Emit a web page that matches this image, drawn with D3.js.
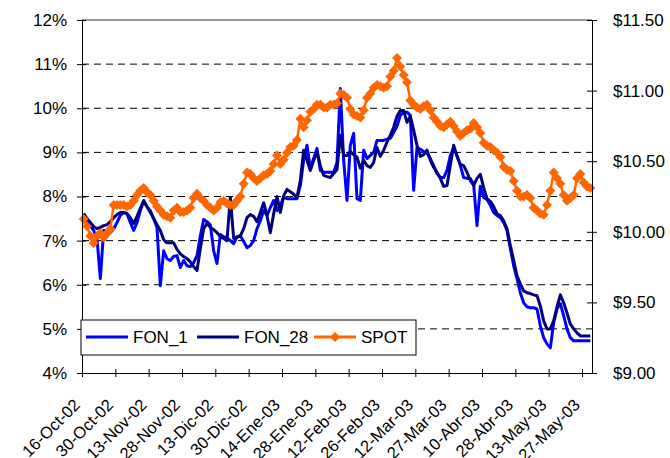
<!DOCTYPE html>
<html lang="en">
<head>
<meta charset="UTF-8">
<title>FON vs SPOT</title>
<style>
  body { margin: 0; background: #fff; }
  text { font-family: "Liberation Sans", Arial, sans-serif; fill: #000; }
</style>
</head>
<body>
<svg width="670" height="458" id="svg"></svg>
<script src="https://d3js.org/d3.v7.min.js"></script>
<script>
// tick labels, one every 10 business days
var tickLabels = ["16-Oct-02", "30-Oct-02", "13-Nov-02", "28-Nov-02", "13-Dic-02", "30-Dic-02",
                  "14-Ene-03", "28-Ene-03", "12-Feb-03", "26-Feb-03", "12-Mar-03", "27-Mar-03",
                  "10-Abr-03", "28-Abr-03", "13-May-03", "27-May-03"];

// FON_1 (%), left axis
var fon1 = [7.61, 7.45, 7.34, 7.23, 7.05, 6.14, 7.23, 7.20, 7.18, 7.27,
            7.41, 7.57, 7.64, 7.61, 7.41, 7.23, 7.41, 7.68, 7.89, 7.77,
            7.68, 7.50, 7.30, 5.98, 6.77, 6.59, 6.55, 6.64, 6.66, 6.39,
            6.55, 6.43, 6.41, 6.50, 6.66, 7.11, 7.48, 7.43, 7.36, 6.77,
            6.48, 7.14, 7.09, 7.07, 7.00, 6.93, 7.09, 7.11, 6.98, 6.84,
            6.89, 7.00, 7.27, 7.45, 7.68, 7.57, 7.75, 7.91, 7.68, 7.80,
            7.98, 7.95, 7.95, 7.95, 7.95, 8.25, 8.82, 9.16, 8.64, 8.86,
            9.09, 8.59, 8.55, 8.55, 8.55, 8.55, 8.77, 10.45, 8.82, 7.91,
            9.16, 9.43, 7.95, 7.91, 9.05, 8.86, 8.93, 9.00, 9.27, 9.27,
            9.27, 9.30, 9.32, 9.45, 9.59, 9.84, 9.91, 9.91, 9.84, 8.14,
            9.11, 9.07, 9.02, 8.98, 8.86, 8.70, 8.52, 8.43, 8.43, 8.59,
            8.93, 9.11, 8.93, 8.70, 8.43, 8.41, 8.41, 8.27, 7.34, 8.23,
            7.98, 7.93, 7.80, 7.64, 7.57, 7.52, 7.41, 7.23, 6.82, 6.43,
            6.14, 5.82, 5.59, 5.50, 5.48, 5.48, 5.45, 5.07, 4.80, 4.66,
            4.57, 5.14, 5.45, 5.57, 5.30, 5.00, 4.80, 4.73, 4.73, 4.73,
            4.73, 4.73, 4.73];

// FON_28 (%), left axis
var fon28 = [7.61, 7.50, 7.41, 7.32, 7.27, 7.30, 7.34, 7.36, 7.43, 7.52,
             7.59, 7.64, 7.64, 7.61, 7.52, 7.39, 7.55, 7.73, 7.91, 7.77,
             7.64, 7.50, 7.36, 7.23, 7.02, 6.95, 6.95, 6.95, 6.80, 6.70,
             6.64, 6.59, 6.52, 6.41, 6.32, 6.82, 7.27, 7.39, 7.30, 7.25,
             7.18, 7.09, 7.05, 7.00, 7.98, 7.05, 7.07, 7.11, 7.27, 7.52,
             7.59, 7.55, 7.43, 7.64, 7.86, 7.57, 7.18, 7.61, 8.00, 7.64,
             8.02, 8.16, 8.11, 8.05, 7.98, 8.36, 9.05, 8.82, 8.59, 8.82,
             9.00, 8.70, 8.48, 8.45, 8.43, 8.52, 8.61, 9.39, 8.93, 8.93,
             9.02, 8.95, 8.89, 8.64, 8.82, 8.70, 8.66, 8.77, 9.11, 8.91,
             9.05, 9.23, 9.39, 9.57, 9.82, 9.95, 9.95, 9.68, 9.82, 9.50,
             9.16, 8.91, 8.95, 9.05, 8.82, 8.66, 8.55, 8.41, 8.23, 8.25,
             8.70, 9.16, 8.91, 8.73, 8.70, 8.55, 8.36, 8.25, 8.41, 8.50,
             8.20, 7.95, 7.89, 7.77, 7.61, 7.57, 7.45, 7.27, 6.89, 6.55,
             6.20, 6.02, 5.86, 5.82, 5.80, 5.77, 5.75, 5.52, 5.18, 5.00,
             5.00, 5.18, 5.50, 5.77, 5.59, 5.36, 5.11, 5.00, 4.91, 4.84,
             4.84, 4.84, 4.84];

// SPOT ($), right axis
var spot = [10.09, 10.04, 9.97, 9.92, 9.97, 9.99, 9.96, 9.99, 10.02, 10.19,
            10.19, 10.19, 10.19, 10.18, 10.19, 10.22, 10.26, 10.29, 10.31, 10.28,
            10.26, 10.22, 10.18, 10.15, 10.12, 10.11, 10.10, 10.15, 10.17, 10.14,
            10.14, 10.15, 10.17, 10.24, 10.27, 10.24, 10.22, 10.19, 10.17, 10.15,
            10.17, 10.21, 10.22, 10.20, 10.19, 10.19, 10.22, 10.25, 10.34, 10.42,
            10.41, 10.38, 10.36, 10.38, 10.40, 10.41, 10.43, 10.48, 10.54, 10.48,
            10.51, 10.56, 10.60, 10.61, 10.65, 10.80, 10.74, 10.79, 10.85, 10.87,
            10.90, 10.90, 10.88, 10.88, 10.90, 10.90, 10.91, 10.98, 10.97, 10.95,
            10.87, 10.83, 10.82, 10.81, 10.86, 10.95, 10.98, 11.02, 11.04, 11.03,
            11.02, 11.03, 11.10, 11.14, 11.23, 11.17, 11.11, 11.06, 10.93, 10.90,
            10.88, 10.87, 10.89, 10.90, 10.86, 10.81, 10.78, 10.75, 10.74, 10.76,
            10.78, 10.75, 10.71, 10.68, 10.70, 10.72, 10.73, 10.77, 10.74, 10.70,
            10.63, 10.61, 10.60, 10.58, 10.56, 10.53, 10.46, 10.44, 10.43, 10.36,
            10.29, 10.25, 10.25, 10.26, 10.24, 10.17, 10.15, 10.13, 10.12, 10.19,
            10.29, 10.42, 10.38, 10.34, 10.26, 10.22, 10.24, 10.26, 10.38, 10.41,
            10.35, 10.32, 10.31];

var pctTicks = [4, 5, 6, 7, 8, 9, 10, 11, 12];
var usdTicks = [9, 9.5, 10, 10.5, 11, 11.5];

var svg = d3.select("svg"),
    pLeft = 82, pRight = 592, pTop = 20, pBottom = 373;

var idx = d3.range(spot.length);
var x = d3.scaleBand().domain(idx).range([pLeft, pRight]);
var xEdge = d3.scaleLinear().domain([0, spot.length]).range([pLeft, pRight]);
var yPct = d3.scaleLinear().domain([4, 12]).range([pBottom, pTop]);
var yUsd = d3.scaleLinear().domain([9, 11.5]).range([pBottom, pTop]);
var cx = function (i) { return x(i) + x.bandwidth() / 2; };

// gridlines
svg.append("g").selectAll("line")
    .data(pctTicks.slice(1))
    .enter().append("line")
    .attr("x1", pLeft).attr("x2", pRight)
    .attr("y1", function (d) { return yPct(d); })
    .attr("y2", function (d) { return yPct(d); })
    .attr("stroke", d => d == 12 ? "#999" : "#000")
    .attr("stroke-width", d => d == 12 ? 2 : 1)
    .attr("stroke-dasharray", d => d == 12 ? null : "7,5");

// series
var linePct = function (arr) {
    return d3.line().x(function (d, i) { return cx(i); }).y(function (d) { return yPct(d); })(arr);
};
svg.append("path").attr("d", linePct(fon1))
    .attr("fill", "none").attr("stroke", "#0000ff").attr("stroke-width", 3).attr("stroke-linejoin", "round");
svg.append("path").attr("d", linePct(fon28))
    .attr("fill", "none").attr("stroke", "#000080").attr("stroke-width", 3).attr("stroke-linejoin", "round");

var spotLine = d3.line().x(function (d, i) { return cx(i); }).y(function (d) { return yUsd(d); });
svg.append("path").attr("d", spotLine(spot))
    .attr("fill", "none").attr("stroke", "#ff6600").attr("stroke-width", 2.5);
var diamond = "M0,-5L5,0L0,5L-5,0Z";
svg.append("g").selectAll("path")
    .data(spot)
    .enter().append("path")
    .attr("d", diamond)
    .attr("transform", function (d, i) { return "translate(" + cx(i) + "," + yUsd(d) + ")"; })
    .attr("fill", "#ff6600");

// left axis
var gl = svg.append("g")
    .attr("transform", "translate(" + pLeft + ",0)")
    .call(d3.axisLeft(yPct).tickValues(pctTicks).tickFormat(function (d) { return d + "%"; })
        .tickSizeInner(5).tickSizeOuter(0).tickPadding(10));
gl.selectAll(".tick line").attr("x1", 4);

// right axis
var gr = svg.append("g")
    .attr("transform", "translate(" + pRight + ",0)")
    .call(d3.axisRight(yUsd).tickValues(usdTicks).tickFormat(d3.format("$.2f"))
        .tickSizeInner(5).tickSizeOuter(0).tickPadding(16));
gr.selectAll(".tick line").attr("x1", -5);

// bottom axis, ticks between categories
var gb = svg.append("g")
    .attr("transform", "translate(0," + pBottom + ")")
    .call(d3.axisBottom(xEdge).tickValues(d3.range(0, spot.length, 10)).tickFormat("")
        .tickSizeInner(4).tickSizeOuter(0));
gb.selectAll(".tick line").attr("y1", -4);

[gl, gr, gb].forEach(function (g) {
    g.select(".domain").attr("stroke", "#000");
    g.selectAll(".tick line").attr("stroke", "#000");
    g.selectAll("text").attr("font-size", 17).attr("font-family", "Liberation Sans, Arial, sans-serif").attr("fill", "#000");
});

// rotated date labels
svg.append("g").selectAll("text")
    .data(tickLabels)
    .enter().append("text")
    .attr("transform", function (d, k) { return "translate(" + (xEdge(k * 10) - 1) + "," + (pBottom + 33) + ") rotate(-45)"; })
    .attr("text-anchor", "end")
    .attr("font-size", 16.5)
    .text(function (d) { return d; });

// legend
var lg = svg.append("g");
lg.append("rect").attr("x", 81).attr("y", 320).attr("width", 335).attr("height", 35)
    .attr("fill", "#fff").attr("stroke", "#000");
var items = [
    { name: "FON_1", color: "#0000ff", x: 86, marker: false },
    { name: "FON_28", color: "#000080", x: 197, marker: false },
    { name: "SPOT", color: "#ff6600", x: 314, marker: true }
];
items.forEach(function (it) {
    lg.append("line").attr("x1", it.x).attr("x2", it.x + 42).attr("y1", 337).attr("y2", 337)
        .attr("stroke", it.color).attr("stroke-width", 3);
    if (it.marker) lg.append("path").attr("d", diamond).attr("fill", it.color)
        .attr("transform", "translate(" + (it.x + 21) + ",337)");
    lg.append("text").attr("x", it.x + 47).attr("y", 343).attr("font-size", 17).text(it.name);
});
</script>
</body>
</html>
